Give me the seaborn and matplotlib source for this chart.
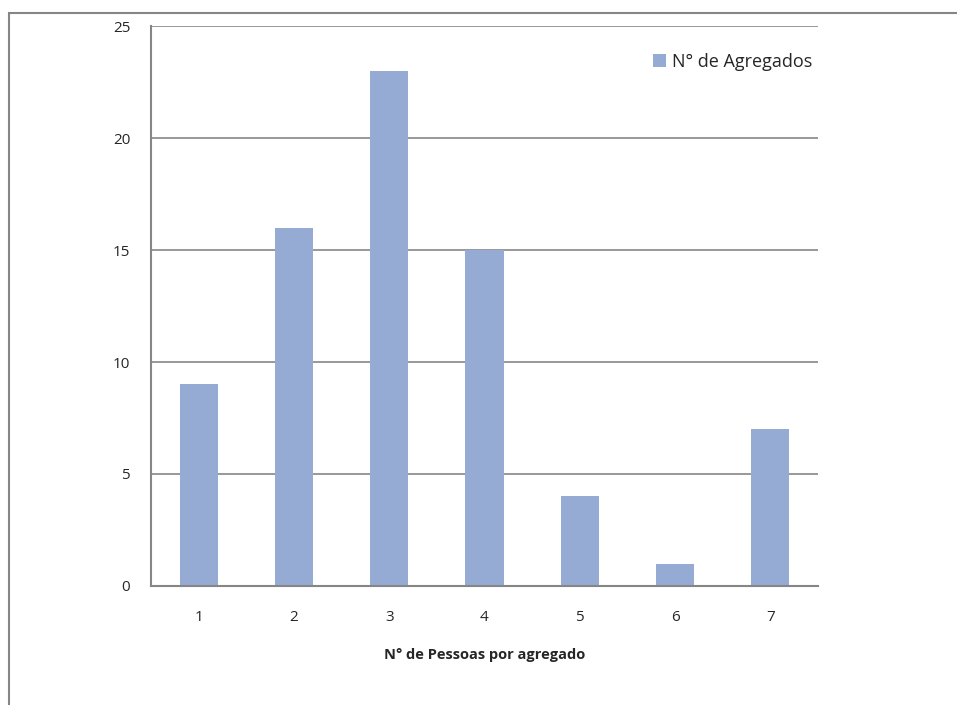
import matplotlib
matplotlib.use("Agg")
import matplotlib.pyplot as plt
import seaborn as sns
import pandas as pd
from matplotlib.patches import Rectangle

# Data
pessoas = ["1", "2", "3", "4", "5", "6", "7"]
agregados = [9, 16, 23, 15, 4, 1, 7]
y_ticks = [0, 5, 10, 15, 20, 25]

bar_color = "#95abd3"
grid_color = "#868686"

sns.set_theme(style="white")
plt.rcParams['font.family'] = ['Open Sans', 'DejaVu Sans']

df = pd.DataFrame({"Pessoas": pessoas, "Agregados": agregados})

fig = plt.figure(figsize=(9.57, 7.05), dpi=100)
ax = fig.add_axes([0.1578, 0.1688, 0.6969, 0.7943])

sns.barplot(data=df, x="Pessoas", y="Agregados", color=bar_color,
            width=0.4, saturation=1, linewidth=0, ax=ax, label="N° de Agregados")

ax.set_ylim(0, 25)
ax.set_yticks(y_ticks)
ax.set_xlim(-0.5, len(pessoas) - 0.5)
for y in y_ticks[1:]:
    ax.axhline(y, color=grid_color, lw=1.2, zorder=0)

for s in ["top", "right"]:
    ax.spines[s].set_visible(False)
for s in ["left", "bottom"]:
    ax.spines[s].set_color(grid_color)
    ax.spines[s].set_linewidth(1.5)

ax.tick_params(axis="y", labelsize=11, pad=15, length=0)
ax.tick_params(axis="x", labelsize=11, pad=17, length=0)
ax.set_ylabel("")
ax.set_xlabel("N° de Pessoas por agregado", fontsize=10.5, fontweight="bold", labelpad=17)

leg = ax.legend(loc="upper right", bbox_to_anchor=(1.01, 0.975), frameon=False,
                fontsize=13, handlelength=0.75, handleheight=0.75, handletextpad=0.3,
                borderaxespad=0.3)

# outer chart border
fig.patches.append(Rectangle((9 / 957, -0.1), 1.2, (705 - 13) / 705 + 0.1,
                             transform=fig.transFigure, fill=False,
                             edgecolor=grid_color, lw=1.5))

fig.savefig("out.png", dpi=100)
